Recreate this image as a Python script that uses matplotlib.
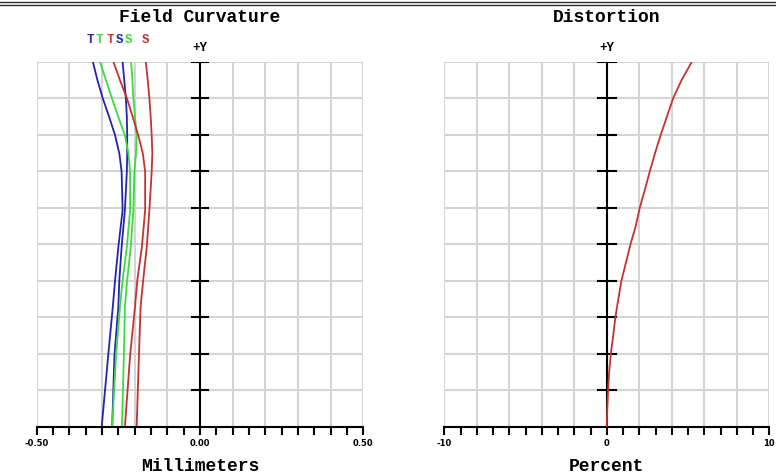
import numpy as np
import matplotlib
matplotlib.use("Agg")
import matplotlib.pyplot as plt
from matplotlib.lines import Line2D

# relative field (0 = axis, 1 = full field)
field = [1.0, 0.95, 0.901, 0.849, 0.799, 0.749, 0.699, 0.594, 0.493, 0.402, 0.329, 0.196, 0.0]

# field curvature in mm, T = tangential, S = sagittal
t_blue = [-0.328, -0.314, -0.298, -0.278, -0.260, -0.247, -0.240, -0.237, -0.250, -0.260, -0.267, -0.281, -0.301]
s_blue = [-0.237, -0.232, -0.227, -0.224, -0.223, -0.223, -0.224, -0.230, -0.240, -0.247, -0.250, -0.262, -0.269]
t_green = [-0.306, -0.288, -0.270, -0.250, -0.230, -0.219, -0.214, -0.214, -0.224, -0.237, -0.245, -0.257, -0.269]
s_green = [-0.211, -0.207, -0.204, -0.199, -0.194, -0.196, -0.201, -0.204, -0.212, -0.223, -0.230, -0.233, -0.239]
t_red = [-0.265, -0.245, -0.224, -0.206, -0.189, -0.175, -0.168, -0.168, -0.178, -0.192, -0.199, -0.214, -0.230]
s_red = [-0.166, -0.160, -0.155, -0.151, -0.148, -0.146, -0.148, -0.155, -0.163, -0.174, -0.182, -0.187, -0.194]

# distortion in percent
dist_field = [0.0, 0.046, 0.1, 0.146, 0.2, 0.247, 0.3, 0.347, 0.4, 0.448, 0.5,
              0.548, 0.6, 0.649, 0.7, 0.75, 0.8, 0.85, 0.9, 0.95, 1.0]
distortion = [0.0, 0.03, 0.08, 0.14, 0.25, 0.39, 0.53, 0.70, 0.90, 1.17, 1.46,
              1.77, 2.03, 2.34, 2.65, 2.97, 3.32, 3.70, 4.08, 4.60, 5.23]

blue = '#2424b4'
green = '#3cdc3c'
red = '#c43232'
grid_c = '#d4d4d4'
mono = 'Liberation Mono'

fig = plt.figure(figsize=(7.76, 4.74), dpi=100)
ax1 = fig.add_axes([0.0473, 0.0998, 0.4209, 0.7694])
ax2 = fig.add_axes([0.5725, 0.0998, 0.4188, 0.7694])


def setup(ax, xmax, step, ticklabels, xlabel, title, cap):
    ax.set_xlim(-xmax, xmax)
    ax.set_ylim(0, 1)
    for x in np.linspace(-xmax, xmax, 11):
        ax.axvline(x, color=grid_c, lw=1.5, zorder=0)
    for y in np.arange(0.1, 1.01, 0.1):
        ax.axhline(y, color=grid_c, lw=1.5, zorder=0)
    for s in ['top', 'left', 'right']:
        ax.spines[s].set_visible(False)
    ax.spines['bottom'].set_color('black')
    ax.spines['bottom'].set_linewidth(1.5)
    ticks = np.linspace(-xmax, xmax, int(round(2 * xmax / step)) + 1)
    labels = [''] * len(ticks)
    labels[0], labels[len(ticks) // 2], labels[-1] = ticklabels
    ax.set_xticks(ticks)
    ax.set_xticklabels(labels, fontsize=6, fontweight='bold')
    ax.tick_params(axis='x', direction='out', length=6, width=1.5,
                   color='black', pad=3)
    ax.set_yticks([])
    # center axis with field ticks
    ax.plot([0, 0], [0, 1], color='black', lw=1.5, zorder=3)
    for y in np.arange(0.1, 1.01, 0.1):
        ax.plot([-cap, cap], [y, y], color='black', lw=1.5, zorder=3)
    ax.text(0, 1.038, '+Y', ha='center', va='center', fontsize=9,
            family=mono, fontweight='bold')
    ax.text(0.5, 1.123, title, transform=ax.transAxes, ha='center',
            va='center', fontsize=13, family=mono, fontweight='bold')
    ax.text(0.5, -0.108, xlabel, transform=ax.transAxes, ha='center',
            va='center', fontsize=13, family=mono, fontweight='bold')


setup(ax1, 0.5, 0.05, ['-0.50', '0.00', '0.50'], 'Millimeters',
      'Field Curvature', 0.025)
setup(ax2, 10, 1, ['-10', '0', '10'], 'Percent', 'Distortion', 0.55)

for vals, c in [(t_blue, blue), (s_blue, blue), (t_green, green),
                (s_green, green), (t_red, red), (s_red, red)]:
    ax1.plot(vals, field, color=c, lw=1.3, zorder=2)

ax2.plot(distortion, dist_field, color=red, lw=1.3, zorder=4)

# legend letters
for x, s, c in [(-0.336, 'T', blue), (-0.308, 'T', green), (-0.274, 'T', red),
                (-0.246, 'S', blue), (-0.220, 'S', green), (-0.166, 'S', red)]:
    ax1.text(x, 1.060, s, color=c, ha='center', va='center', fontsize=9,
             family=mono, fontweight='bold')

# double border at top
for yy in [1 - 1.5 / 474, 1 - 4.5 / 474]:
    fig.add_artist(Line2D([0, 1], [yy, yy], color='#303030', lw=1.0,
                          transform=fig.transFigure))

fig.savefig('out.png', dpi=100)
